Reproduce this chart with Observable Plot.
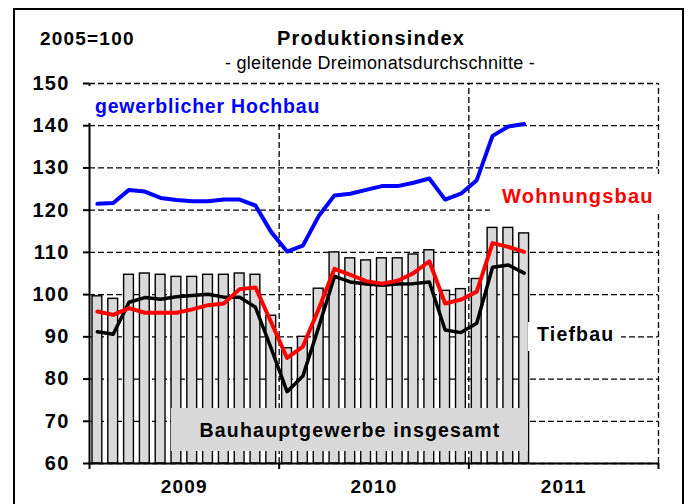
<!DOCTYPE html>
<html><head><meta charset="utf-8">
<script src="https://cdn.jsdelivr.net/npm/d3@7"></script>
<script src="https://cdn.jsdelivr.net/npm/@observablehq/plot@0.6"></script>
<style>
body{margin:0;background:#fff;}
#chart{position:relative;width:692px;height:504px;overflow:hidden;background:#fff;}
#frame{position:absolute;left:13px;top:8px;width:667px;height:520px;border:2px solid #000;pointer-events:none;}
#chart svg text{letter-spacing:1.2px;}
#chart svg text.sub{letter-spacing:0.3px;}
#chart svg text.narrow{letter-spacing:0.8px;}
</style></head><body><div id="chart"><div id="frame"></div></div>
<script>
// Monthly 3-month moving averages, 2005=100
const months = ["2009-01","2009-02","2009-03","2009-04","2009-05","2009-06","2009-07","2009-08","2009-09","2009-10","2009-11","2009-12",
                "2010-01","2010-02","2010-03","2010-04","2010-05","2010-06","2010-07","2010-08","2010-09","2010-10","2010-11","2010-12",
                "2011-01","2011-02","2011-03","2011-04"];
const insgesamt   = [99.6, 99.0, 104.7, 105.0, 104.7, 104.2, 104.2, 104.7, 104.7, 105.0, 104.7, 95.0,
                     87.3, 90.0, 101.4, 110.0, 108.6, 108.1, 108.6, 108.6, 109.5, 110.5, 100.9, 101.3,
                     103.7, 115.8, 115.8, 114.5];
const hochbau     = [121.5, 121.7, 124.8, 124.4, 122.9, 122.4, 122.1, 122.1, 122.5, 122.5, 121.1, 114.8,
                     110.2, 111.6, 118.6, 123.5, 123.9, 124.8, 125.7, 125.7, 126.5, 127.5, 122.5, 123.9,
                     127.1, 137.6, 139.8, 140.4];
const wohnungsbau = [96.0, 95.2, 96.8, 95.7, 95.7, 95.7, 96.5, 97.5, 97.9, 101.3, 101.7, 93.4,
                     85.0, 87.7, 96.6, 106.1, 104.7, 103.2, 102.6, 103.3, 105.1, 107.9, 97.9, 98.8,
                     100.7, 112.2, 111.3, 110.1];
const tiefbau     = [91.2, 90.6, 98.2, 99.3, 98.9, 99.5, 99.8, 100.1, 99.4, 99.4, 97.0, 87.2,
                     77.0, 80.7, 92.3, 104.3, 103.0, 102.5, 102.2, 102.5, 102.6, 103.0, 91.6, 91.0,
                     93.2, 106.5, 107.0, 105.1];
const yearLabels = ["2009", "2010", "2011"];
const yTicks = [60, 70, 80, 90, 100, 110, 120, 130, 140, 150];
const monthsPerYear = 12;

const data = months.map((m, i) => ({m, i, total: insgesamt[i], hoch: hochbau[i], wohn: wohnungsbau[i], tief: tiefbau[i]}));
const yearStarts = d3.range(0, yearLabels.length + 1).map(k => k * monthsPerYear);
const yearMids = yearLabels.map((y, k) => k * monthsPerYear + monthsPerYear / 2);
const base = yTicks[0];
const font = "Arial, 'Liberation Sans', sans-serif";
const dash = "6,3";

const chart = Plot.plot({
  width: 692, height: 504,
  marginLeft: 89, marginRight: 34, marginTop: 83, marginBottom: 41,
  style: {fontFamily: font, background: "transparent", color: "#000", overflow: "visible"},
  x: {type: "linear", domain: [0, yearLabels.length * monthsPerYear], axis: null},
  y: {domain: [yTicks[0], yTicks[yTicks.length - 1]], axis: null},
  marks: [
    Plot.ruleY(yTicks, {stroke: "#000", strokeWidth: 1.3, strokeDasharray: dash}),
    Plot.ruleX(yearStarts.slice(1), {y1: yTicks[0], y2: yTicks[yTicks.length - 1], stroke: "#000", strokeWidth: 1.3, strokeDasharray: dash}),
    Plot.rectY(data, {x1: "i", x2: d => d.i + 1, y1: base, y2: "total", insetLeft: 3, insetRight: 3,
                      fill: "#d9d9d9", stroke: "#000", strokeWidth: 1.4}),
    Plot.line(data, {x: d => d.i + 0.5, y: "hoch", stroke: "#0000ff", strokeWidth: 4, strokeLinejoin: "round"}),
    Plot.line(data, {x: d => d.i + 0.5, y: "tief", stroke: "#000", strokeWidth: 3.5, strokeLinejoin: "round"}),
    Plot.line(data, {x: d => d.i + 0.5, y: "wohn", stroke: "#ff0000", strokeWidth: 4, strokeLinejoin: "round"}),
    Plot.ruleX(yearStarts.slice(0, 1), {y1: yTicks[0], y2: yTicks[yTicks.length - 1], stroke: "#000", strokeWidth: 2}),
    Plot.ruleY([base], {stroke: "#000", strokeWidth: 2}),
    Plot.axisY(yTicks, {tickSize: 6, tickPadding: 14, fontSize: 20, fontWeight: "bold", label: null, strokeWidth: 2}),
    Plot.axisX(yearStarts, {tickSize: 6, tickFormat: () => "", label: null, strokeWidth: 2}),
    Plot.axisX(yearMids, {tickSize: 0, tickPadding: 15.5, tickFormat: d => yearLabels[yearMids.indexOf(d)],
                          fontSize: 19, fontWeight: "bold", label: null})
  ]
});
document.getElementById("chart").prepend(chart);

// annotations
const svg = d3.select(chart);
function box(x0, y0, x1, y1, fill) {
  svg.append("rect").attr("x", x0).attr("y", y0).attr("width", x1 - x0).attr("height", y1 - y0).attr("fill", fill);
}
function label(text, x, y, opts = {}) {
  const t = svg.append("text").text(text).attr("x", x).attr("y", y)
    .attr("font-family", font)
    .attr("font-size", opts.size || 20)
    .attr("font-weight", opts.weight || "bold")
    .attr("fill", opts.color || "#000")
    .attr("text-anchor", opts.anchor || "start");
  if (opts.cls) t.attr("class", opts.cls);
  return t;
}
box(86, 86, 330, 123, "#fff");
box(490, 174, 668, 214, "#fff");
box(528, 322, 621, 351, "#fff");
box(171, 408, 528, 451, "#d9d9d9");

label("2005=100", 40, 45, {size: 19});
label("Produktionsindex", 371, 45, {size: 20, anchor: "middle"});
label("- gleitende Dreimonatsdurchschnitte -", 380, 69, {size: 18, weight: "normal", anchor: "middle", cls: "sub"});
label("gewerblicher Hochbau", 95, 113, {size: 19.5, color: "#0000ff", cls: "narrow"});
label("Wohnungsbau", 502, 203, {size: 20, color: "#ff0000"});
label("Tiefbau", 537, 341, {size: 19.5});
label("Bauhauptgewerbe insgesamt", 350, 437, {size: 19.5, anchor: "middle"});
</script>
</body></html>
